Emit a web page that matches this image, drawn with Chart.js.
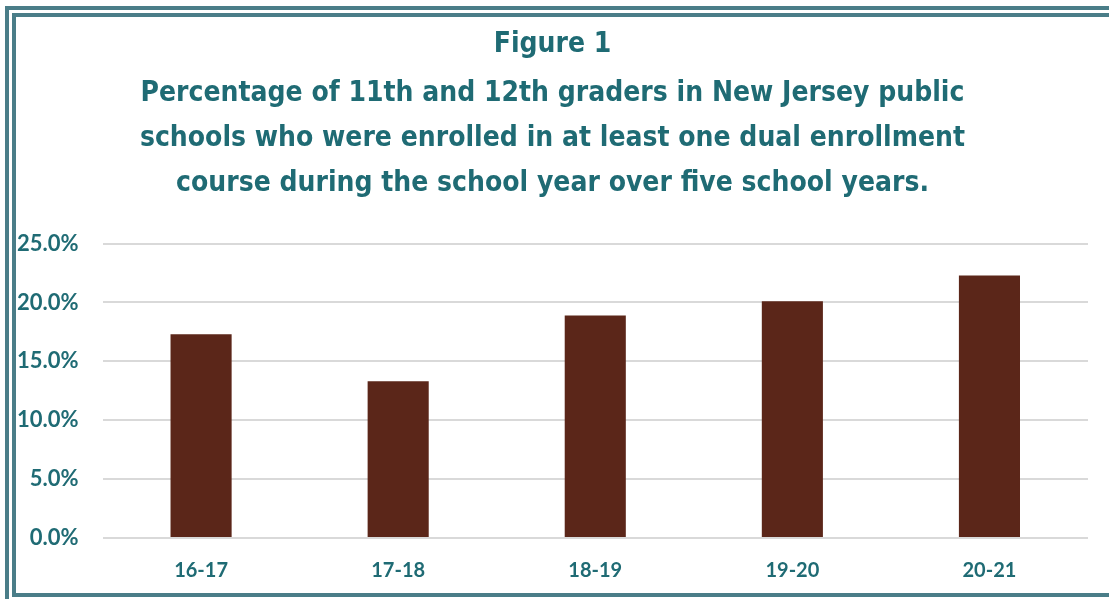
<!DOCTYPE html>
<html>
<head>
<meta charset="utf-8">
<script src="https://cdn.jsdelivr.net/npm/chart.js@4"></script>
<style>
  html, body { margin: 0; padding: 0; background: #fff; overflow: hidden; }
  #frame-outer {
    position: absolute; left: 5px; top: 6px;
    width: 1120px; height: 584px;
    border: 4px solid #4a7d88; padding: 3px;
  }
  #frame-inner {
    width: 100%; height: 100%;
    border: 4px solid #4a7d88; box-sizing: border-box;
  }
  #chart { position: absolute; left: 16px; top: 17px; }
</style>
</head>
<body>
<div id="frame-outer"><div id="frame-inner"></div></div>
<canvas id="chart" width="1093" height="576"></canvas>
<script>
// --- DATA ---
const schoolYears = ['16-17', '17-18', '18-19', '19-20', '20-21'];
const dualEnrollmentPct = [17.3, 13.3, 18.9, 20.1, 22.3];
const titleLines = ['Figure 1'];
const subtitleLines = [
    'Percentage of 11th and 12th graders in New Jersey public',
    'schools who were enrolled in at least one dual enrollment',
    'course during the school year over five school years.'
];

const TEAL = '#1f6b74';
const BAR = '#5b2619';

const ctx = document.getElementById('chart').getContext('2d');
new Chart(ctx, {
    type: 'bar',
    data: {
        labels: schoolYears,
        datasets: [{ data: dualEnrollmentPct, backgroundColor: BAR, barPercentage: 0.31, categoryPercentage: 1 }]
    },
    options: {
        responsive: false, animation: false,
        layout: { padding: { left: 1, right: 21, top: 0, bottom: 10 } },
        plugins: {
            legend: { display: false },
            tooltip: { enabled: false },
            title: {
                display: true, text: titleLines, color: TEAL,
                font: { family: 'DejaVu Sans Condensed', weight: 'bold', size: 28, lineHeight: 1.2 },
                padding: { top: 11, bottom: 10 }
            },
            subtitle: {
                display: true, text: subtitleLines, color: TEAL,
                font: { family: 'DejaVu Sans Condensed', weight: 'bold', size: 28, lineHeight: 1.607 },
                padding: { top: 0, bottom: 37 }
            }
        },
        scales: {
            y: {
                min: 0, max: 25,
                ticks: {
                    stepSize: 5, padding: 24, color: TEAL,
                    font: { family: 'Lato', weight: 'bold', size: 22 },
                    callback: v => v.toFixed(1) + '%'
                },
                grid: { color: '#d9d9d9', lineWidth: 2, drawTicks: false },
                border: { display: false },
                // the axis keeps its tick padding twice; give the extra back
                afterFit: s => { s.width -= 24; }
            },
            x: {
                ticks: { padding: 21, color: TEAL, font: { family: 'Lato', weight: 'bold', size: 20 } },
                grid: { display: false, drawTicks: false },
                border: { display: false },
                afterFit: s => { s.height -= 21; }
            }
        }
    }
});
</script>
</body>
</html>
